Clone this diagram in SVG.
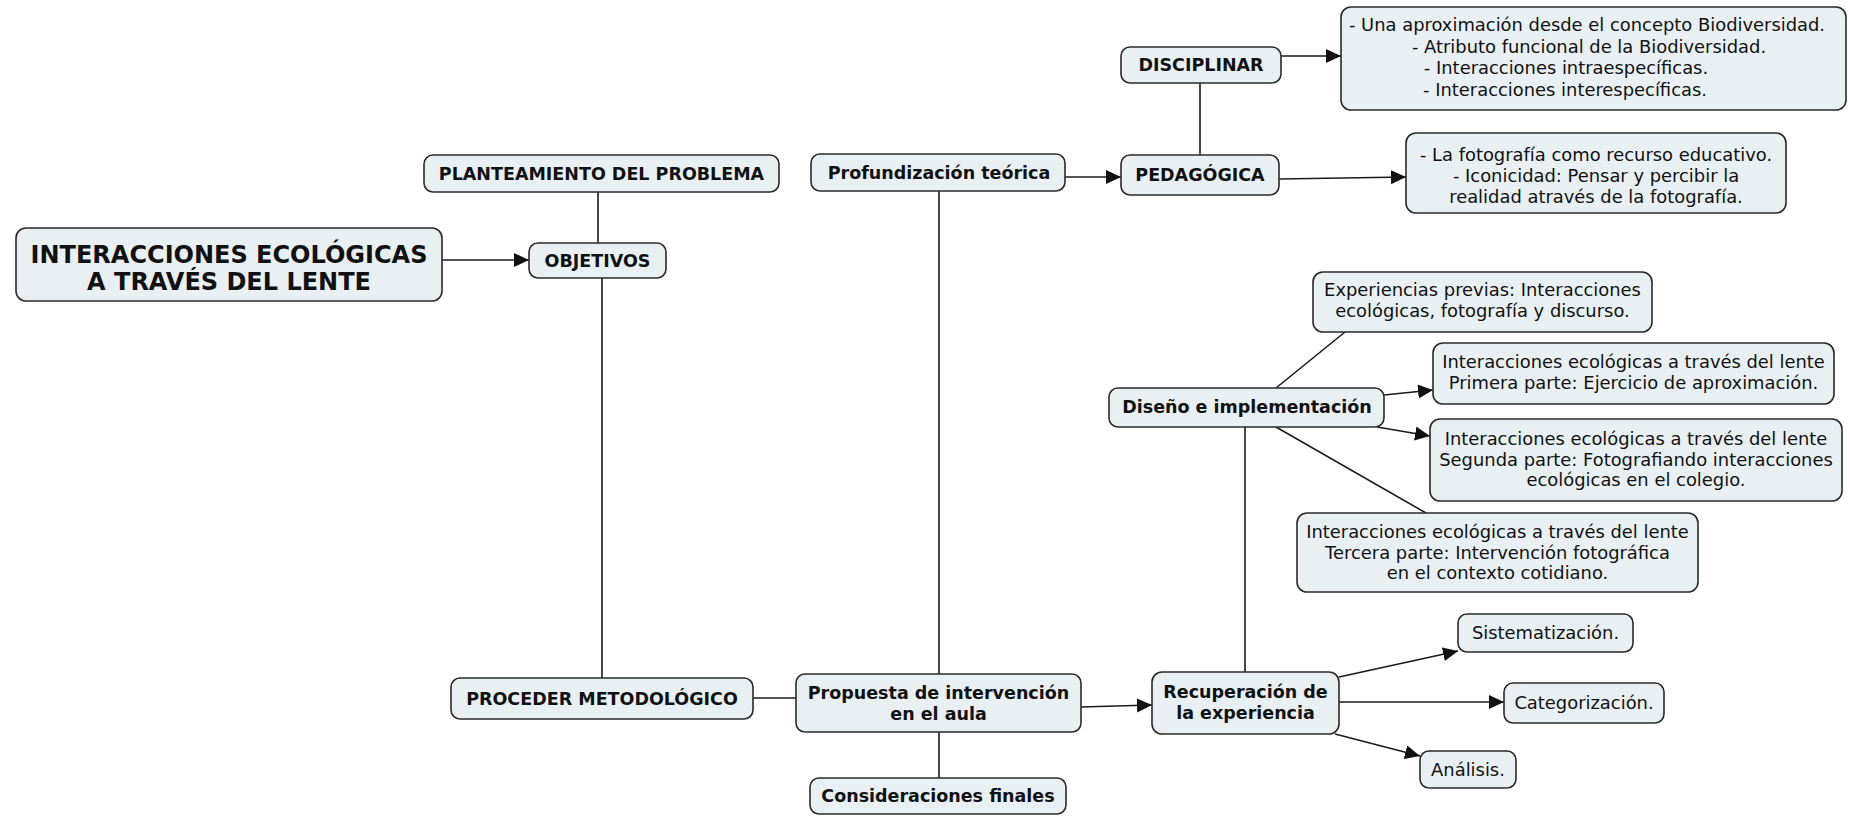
<svg xmlns="http://www.w3.org/2000/svg" width="1850" height="816" viewBox="0 0 1850 816">
<defs>
<marker id="arr" markerUnits="userSpaceOnUse" markerWidth="16" markerHeight="16" refX="15" refY="7" orient="auto">
<path d="M0,0 L15,7 L0,14 z" fill="#111"/>
</marker>
<style>
.box{fill:#e9f0f4;stroke:#2a2a2a;stroke-width:1.6}
.b{font-family:"DejaVu Sans","Verdana",sans-serif;font-weight:bold;font-size:17.5px;fill:#111;text-anchor:middle}
.r{font-family:"DejaVu Sans","Verdana",sans-serif;font-size:17.9px;fill:#111;text-anchor:middle}
.t{font-family:"DejaVu Sans","Verdana",sans-serif;font-weight:bold;font-size:24px;fill:#111;text-anchor:middle}
.c{fill:none;stroke:#1a1a1a;stroke-width:1.6}
.a{fill:none;stroke:#1a1a1a;stroke-width:1.6;marker-end:url(#arr)}
</style>
</defs>
<rect width="1850" height="816" fill="#fff"/>
<g id="connectors">
<line class="a" x1="442" y1="260" x2="529" y2="260"/>
<line class="c" x1="598" y1="192" x2="598" y2="243"/>
<line class="c" x1="602" y1="278" x2="602" y2="678"/>
<line class="c" x1="753" y1="698" x2="796" y2="698"/>
<line class="c" x1="939" y1="191" x2="939" y2="674"/>
<line class="c" x1="939" y1="732" x2="939" y2="778"/>
<line class="a" x1="1065" y1="177" x2="1121" y2="177"/>
<line class="c" x1="1200" y1="83" x2="1200" y2="155"/>
<line class="a" x1="1281" y1="56" x2="1341" y2="56"/>
<line class="a" x1="1279" y1="179" x2="1406" y2="177"/>
<line class="a" x1="1081" y1="707" x2="1152" y2="705"/>
<line class="c" x1="1245" y1="427" x2="1245" y2="672"/>
<line class="c" x1="1276" y1="388" x2="1345" y2="332"/>
<line class="a" x1="1384" y1="395" x2="1433" y2="390"/>
<line class="a" x1="1377" y1="427" x2="1430" y2="436"/>
<line class="c" x1="1276" y1="427" x2="1426" y2="513"/>
<line class="a" x1="1339" y1="677" x2="1458" y2="651"/>
<line class="a" x1="1339" y1="702" x2="1504" y2="702"/>
<line class="a" x1="1335" y1="734" x2="1420" y2="756"/>
</g>
<g id="n-main"><rect class="box" x="16" y="228" width="426" height="73" rx="10"/>
<text class="t" x="229" y="263">INTERACCIONES ECOLÓGICAS</text>
<text class="t" x="229" y="290">A TRAVÉS DEL LENTE</text></g>
<g id="n-planteamiento"><rect class="box" x="424" y="155" width="355" height="37" rx="9"/>
<text class="b" x="601.5" y="180">PLANTEAMIENTO DEL PROBLEMA</text></g>
<g id="n-objetivos"><rect class="box" x="529" y="243" width="137" height="35" rx="9"/>
<text class="b" x="597.5" y="267">OBJETIVOS</text></g>
<g id="n-proceder"><rect class="box" x="451" y="678" width="302" height="41" rx="9"/>
<text class="b" x="602" y="705">PROCEDER METODOLÓGICO</text></g>
<g id="n-propuesta"><rect class="box" x="796" y="674" width="285" height="58" rx="9"/>
<text class="b" x="938.5" y="699">Propuesta de intervención</text>
<text class="b" x="938.5" y="720">en el aula</text></g>
<g id="n-consideraciones"><rect class="box" x="810" y="778" width="256" height="36" rx="9"/>
<text class="b" x="938" y="802">Consideraciones finales</text></g>
<g id="n-profundizacion"><rect class="box" x="811" y="154" width="254" height="37" rx="9"/>
<text class="b" x="939" y="179">Profundización teórica</text></g>
<g id="n-disciplinar"><rect class="box" x="1121" y="47" width="160" height="36" rx="9"/>
<text class="b" x="1201" y="71">DISCIPLINAR</text></g>
<g id="n-pedagogica"><rect class="box" x="1121" y="155" width="158" height="40" rx="9"/>
<text class="b" x="1200" y="181">PEDAGÓGICA</text></g>
<g id="n-disc-text"><rect class="box" x="1341" y="7" width="505" height="103" rx="10"/>
<text class="r" x="1587" y="31">- Una aproximación desde el concepto Biodiversidad.</text>
<text class="r" x="1589" y="52.5">- Atributo funcional de la Biodiversidad.</text>
<text class="r" x="1566" y="74">- Interacciones intraespecíficas.</text>
<text class="r" x="1565" y="95.5">- Interacciones interespecíficas.</text></g>
<g id="n-ped-text"><rect class="box" x="1406" y="133" width="380" height="80" rx="10"/>
<text class="r" x="1596" y="161">- La fotografía como recurso educativo.</text>
<text class="r" x="1596" y="182">- Iconicidad: Pensar y percibir la</text>
<text class="r" x="1596" y="203">realidad através de la fotografía.</text></g>
<g id="n-experiencias"><rect class="box" x="1313" y="272" width="339" height="60" rx="10"/>
<text class="r" x="1482.5" y="296">Experiencias previas: Interacciones</text>
<text class="r" x="1482.5" y="317">ecológicas, fotografía y discurso.</text></g>
<g id="n-diseno"><rect class="box" x="1109" y="388" width="275" height="39" rx="9"/>
<text class="b" x="1247" y="413">Diseño e implementación</text></g>
<g id="n-primera"><rect class="box" x="1433" y="343" width="401" height="61" rx="10"/>
<text class="r" x="1633.5" y="368">Interacciones ecológicas a través del lente</text>
<text class="r" x="1633.5" y="389">Primera parte: Ejercicio de aproximación.</text></g>
<g id="n-segunda"><rect class="box" x="1430" y="419" width="412" height="82" rx="10"/>
<text class="r" x="1636" y="445">Interacciones ecológicas a través del lente</text>
<text class="r" x="1636" y="465.5">Segunda parte: Fotografiando interacciones</text>
<text class="r" x="1636" y="486">ecológicas en el colegio.</text></g>
<g id="n-tercera"><rect class="box" x="1297" y="513" width="401" height="79" rx="10"/>
<text class="r" x="1497.5" y="538">Interacciones ecológicas a través del lente</text>
<text class="r" x="1497.5" y="558.5">Tercera parte: Intervención fotográfica</text>
<text class="r" x="1497.5" y="579">en el contexto cotidiano.</text></g>
<g id="n-recuperacion"><rect class="box" x="1152" y="672" width="187" height="62" rx="10"/>
<text class="b" x="1245.5" y="698">Recuperación de</text>
<text class="b" x="1245.5" y="719">la experiencia</text></g>
<g id="n-sistematizacion"><rect class="box" x="1458" y="614" width="175" height="38" rx="9"/>
<text class="r" x="1545.5" y="639">Sistematización.</text></g>
<g id="n-categorizacion"><rect class="box" x="1504" y="683" width="160" height="40" rx="9"/>
<text class="r" x="1584" y="709">Categorización.</text></g>
<g id="n-analisis"><rect class="box" x="1420" y="751" width="96" height="37" rx="9"/>
<text class="r" x="1468" y="776">Análisis.</text></g>
</svg>
